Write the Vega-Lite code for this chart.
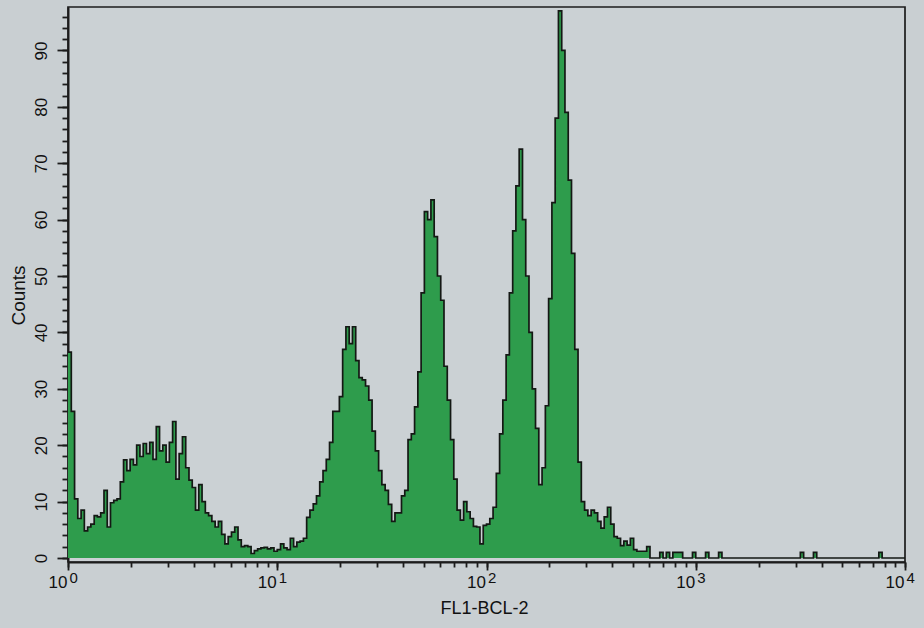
{
  "$schema": "https://vega.github.io/schema/vega-lite/v6.json",
  "width": 837,
  "height": 555,
  "autosize": {"type": "none"},
  "padding": {"left": 68, "top": 7, "right": 19, "bottom": 66},
  "background": "#c9cfd2",
  "config": {
    "view": {"stroke": "#1c1c1c", "strokeWidth": 1.7, "fill": "#cbd1d4"},
    "font": "Liberation Sans",
    "axis": {
      "domainColor": "#1c1c1c", "domainWidth": 2,
      "tickColor": "#1c1c1c", "tickWidth": 1.8,
      "labelColor": "#111111", "titleColor": "#111111",
      "grid": false, "labelFont": "Liberation Sans", "titleFont": "Liberation Sans",
      "titleFontWeight": "normal", "labelFlush": false, "labelOverlap": false
    }
  },
  "data": {"values": [
    {"fl":1,"n":36.5},{"fl":1.037,"n":26},{"fl":1.075,"n":10.5},{"fl":1.114,"n":7},{"fl":1.155,"n":8.5},{"fl":1.197,"n":4.8},{"fl":1.241,"n":5.5},{"fl":1.286,"n":6},
    {"fl":1.334,"n":7.5},{"fl":1.382,"n":7.3},{"fl":1.433,"n":8},{"fl":1.486,"n":12},{"fl":1.540,"n":5.5},{"fl":1.596,"n":9.8},{"fl":1.655,"n":10.2},{"fl":1.715,"n":10.5},
    {"fl":1.778,"n":13.5},{"fl":1.843,"n":17.4},{"fl":1.911,"n":15.5},{"fl":1.981,"n":17.5},{"fl":2.054,"n":16.5},{"fl":2.129,"n":20},{"fl":2.207,"n":18},{"fl":2.288,"n":20.3},
    {"fl":2.371,"n":18.5},{"fl":2.458,"n":20.5},{"fl":2.548,"n":17.5},{"fl":2.642,"n":23.3},{"fl":2.738,"n":19},{"fl":2.839,"n":20},{"fl":2.943,"n":17},{"fl":3.051,"n":20.5},
    {"fl":3.162,"n":24.2},{"fl":3.278,"n":14},{"fl":3.398,"n":18.5},{"fl":3.523,"n":21.5},{"fl":3.652,"n":16},{"fl":3.786,"n":13.8},{"fl":3.924,"n":12.5},{"fl":4.068,"n":8.5},
    {"fl":4.217,"n":13},{"fl":4.371,"n":10},{"fl":4.532,"n":8},{"fl":4.698,"n":7.5},{"fl":4.870,"n":6.5},{"fl":5.048,"n":5.5},{"fl":5.233,"n":6.5},{"fl":5.425,"n":4.2},
    {"fl":5.623,"n":2.5},{"fl":5.829,"n":3.8},{"fl":6.043,"n":4.6},{"fl":6.264,"n":5.5},{"fl":6.494,"n":3.2},{"fl":6.732,"n":2},{"fl":6.978,"n":2.2},{"fl":7.234,"n":2},
    {"fl":7.499,"n":0.8},{"fl":7.774,"n":1.3},{"fl":8.058,"n":1.6},{"fl":8.354,"n":1.8},{"fl":8.660,"n":1.9},{"fl":8.977,"n":1.6},{"fl":9.306,"n":1.8},{"fl":9.647,"n":1.2},
    {"fl":10,"n":1.5},{"fl":10.37,"n":2.5},{"fl":10.75,"n":1.8},{"fl":11.14,"n":1.5},{"fl":11.55,"n":3.5},{"fl":11.97,"n":2},{"fl":12.41,"n":2.8},{"fl":12.86,"n":3},
    {"fl":13.34,"n":3.5},{"fl":13.82,"n":7.2},{"fl":14.33,"n":8.5},{"fl":14.86,"n":9.6},{"fl":15.40,"n":11},{"fl":15.96,"n":13.5},{"fl":16.55,"n":15.5},{"fl":17.15,"n":17.5},
    {"fl":17.78,"n":20.5},{"fl":18.43,"n":26},{"fl":19.11,"n":26},{"fl":19.81,"n":28.6},{"fl":20.54,"n":37},{"fl":21.29,"n":41},{"fl":22.07,"n":38},{"fl":22.88,"n":41},
    {"fl":23.71,"n":35},{"fl":24.58,"n":32},{"fl":25.48,"n":31.6},{"fl":26.42,"n":30.5},{"fl":27.38,"n":28},{"fl":28.39,"n":22.5},{"fl":29.43,"n":19},{"fl":30.51,"n":15.5},
    {"fl":31.62,"n":13},{"fl":32.78,"n":12},{"fl":33.98,"n":9.5},{"fl":35.23,"n":6.5},{"fl":36.52,"n":8},{"fl":37.86,"n":8},{"fl":39.24,"n":11},{"fl":40.68,"n":12},
    {"fl":42.17,"n":21},{"fl":43.71,"n":22},{"fl":45.32,"n":26.8},{"fl":46.98,"n":33},{"fl":48.70,"n":47},{"fl":50.48,"n":61.4},{"fl":52.33,"n":60},{"fl":54.25,"n":63.5},
    {"fl":56.23,"n":57},{"fl":58.29,"n":50},{"fl":60.43,"n":45.7},{"fl":62.64,"n":34},{"fl":64.94,"n":28},{"fl":67.32,"n":21},{"fl":69.78,"n":14},{"fl":72.34,"n":8.5},
    {"fl":74.99,"n":6.7},{"fl":77.74,"n":10},{"fl":80.58,"n":8.2},{"fl":83.54,"n":7},{"fl":86.60,"n":5.6},{"fl":89.77,"n":5.5},{"fl":93.06,"n":2.5},{"fl":96.47,"n":5.8},
    {"fl":100,"n":6},{"fl":103.7,"n":7},{"fl":107.5,"n":9},{"fl":111.4,"n":15},{"fl":115.5,"n":22},{"fl":119.7,"n":28},{"fl":124.1,"n":36},{"fl":128.6,"n":47},
    {"fl":133.4,"n":58},{"fl":138.2,"n":66},{"fl":143.3,"n":72.5},{"fl":148.6,"n":60},{"fl":154.0,"n":50},{"fl":159.6,"n":40},{"fl":165.5,"n":30},{"fl":171.5,"n":23},
    {"fl":177.8,"n":13},{"fl":184.3,"n":16},{"fl":191.1,"n":27},{"fl":198.1,"n":46},{"fl":205.4,"n":63},{"fl":212.9,"n":78},{"fl":220.7,"n":97},{"fl":228.8,"n":90},
    {"fl":237.1,"n":79},{"fl":245.8,"n":67},{"fl":254.8,"n":54},{"fl":264.2,"n":37},{"fl":273.8,"n":17},{"fl":283.9,"n":10},{"fl":294.3,"n":8.5},{"fl":305.1,"n":7.5},
    {"fl":316.2,"n":8.5},{"fl":327.8,"n":8},{"fl":339.8,"n":6.5},{"fl":352.3,"n":5.3},{"fl":365.2,"n":7.3},{"fl":378.6,"n":9},{"fl":392.4,"n":6},{"fl":406.8,"n":3.8},
    {"fl":421.7,"n":3.5},{"fl":437.1,"n":2.2},{"fl":453.2,"n":3},{"fl":469.8,"n":2.3},{"fl":487.0,"n":3.5},{"fl":504.8,"n":1.5},{"fl":523.3,"n":1.2},{"fl":542.5,"n":1.2},
    {"fl":562.3,"n":1.2},{"fl":582.9,"n":2},{"fl":604.3,"n":0},{"fl":626.4,"n":0},{"fl":649.4,"n":0},{"fl":673.2,"n":1},{"fl":697.8,"n":0},{"fl":723.4,"n":1},
    {"fl":749.9,"n":0},{"fl":777.4,"n":1},{"fl":805.8,"n":1},{"fl":835.4,"n":1},{"fl":866.0,"n":0},{"fl":897.7,"n":0},{"fl":930.6,"n":0},{"fl":964.7,"n":1},
    {"fl":1000,"n":0},{"fl":1037,"n":0},{"fl":1075,"n":0},{"fl":1114,"n":1},{"fl":1155,"n":0},{"fl":1197,"n":0},{"fl":1241,"n":0},{"fl":1286,"n":1},
    {"fl":1334,"n":0},{"fl":1382,"n":0},{"fl":1433,"n":0},{"fl":1486,"n":0},{"fl":1540,"n":0},{"fl":1596,"n":0},{"fl":1655,"n":0},{"fl":1715,"n":0},
    {"fl":1778,"n":0},{"fl":1843,"n":0},{"fl":1911,"n":0},{"fl":1981,"n":0},{"fl":2054,"n":0},{"fl":2129,"n":0},{"fl":2207,"n":0},{"fl":2288,"n":0},
    {"fl":2371,"n":0},{"fl":2458,"n":0},{"fl":2548,"n":0},{"fl":2642,"n":0},{"fl":2738,"n":0},{"fl":2839,"n":0},{"fl":2943,"n":0},{"fl":3051,"n":0},
    {"fl":3162,"n":1},{"fl":3278,"n":0},{"fl":3398,"n":0},{"fl":3523,"n":0},{"fl":3652,"n":1},{"fl":3786,"n":0},{"fl":3924,"n":0},{"fl":4068,"n":0},
    {"fl":4217,"n":0},{"fl":4371,"n":0},{"fl":4532,"n":0},{"fl":4698,"n":0},{"fl":4870,"n":0},{"fl":5048,"n":0},{"fl":5233,"n":0},{"fl":5425,"n":0},
    {"fl":5623,"n":0},{"fl":5829,"n":0},{"fl":6043,"n":0},{"fl":6264,"n":0},{"fl":6494,"n":0},{"fl":6732,"n":0},{"fl":6978,"n":0},{"fl":7234,"n":0},
    {"fl":7499,"n":1},{"fl":7774,"n":0},{"fl":8058,"n":0},{"fl":8354,"n":0},{"fl":8660,"n":0},{"fl":8977,"n":0},{"fl":9306,"n":0},{"fl":9647,"n":0},
    {"fl":10000,"n":0}
  ]},
  "layer": [
    {
      "mark": {"type": "area", "interpolate": "step-after", "color": "#2e9c4c"},
      "encoding": {
        "x": {
          "field": "fl", "type": "quantitative",
          "scale": {"type": "log", "domain": [1, 10000]},
          "axis": {
            "orient": "bottom",
            "values": [1,2,3,4,5,6,7,8,9,10,20,30,40,50,60,70,80,90,100,200,300,400,500,600,700,800,900,1000,2000,3000,4000,5000,6000,7000,8000,9000,10000],
            "labelExpr": "indexof([1,10,100,1000,10000], datum.value) >= 0 ? '10' : ''",
            "tickSize": 5,
            "labelFontSize": 17, "labelAlign": "right", "labelOffset": -1,
            "labelPadding": 7, "labelBaseline": "top",
            "title": "FL1-BCL-2", "titleFontSize": 18,
            "titleX": 416, "titleY": 46, "titleAlign": "center", "titleBaseline": "middle"
          }
        },
        "y": {
          "field": "n", "type": "quantitative",
          "scale": {"domain": [-0.71, 97.7], "nice": false, "zero": false},
          "axis": {
            "orient": "left",
            "values": [0,2,4,6,8,10,12,14,16,18,20,22,24,26,28,30,32,34,36,38,40,42,44,46,48,50,52,54,56,58,60,62,64,66,68,70,72,74,76,78,80,82,84,86,88,90,92,94,96],
            "labelExpr": "datum.value % 10 === 0 ? datum.label : ''",
            "tickSize": 6,
            "labelAngle": 270, "labelAlign": "center", "labelBaseline": "bottom",
            "labelFontSize": 17, "labelPadding": 12,
            "title": "Counts", "titleFontSize": 19, "titleAngle": 270,
            "titleX": -50, "titleY": 288, "titleAlign": "center", "titleBaseline": "middle"
          }
        }
      }
    },
    {
      "mark": {"type": "line", "interpolate": "step-after", "color": "#141814", "strokeWidth": 1.7},
      "encoding": {
        "x": {
          "field": "fl", "type": "quantitative",
          "scale": {"type": "log", "domain": [1, 10000]},
          "axis": {
            "orient": "bottom",
            "values": [1, 10, 100, 1000, 10000],
            "labelExpr": "'' + round(log(datum.value) / LN10)",
            "tickSize": 8, "domain": false,
            "labelAlign": "left", "labelOffset": 1, "labelPadding": 0,
            "labelFontSize": 15, "labelBaseline": "top",
            "title": null
          }
        },
        "y": {
          "field": "n", "type": "quantitative",
          "axis": {
            "orient": "left",
            "values": [0,10,20,30,40,50,60,70,80,90],
            "tickSize": 11, "labels": false, "domain": false, "title": null
          }
        }
      }
    }
  ],
  "resolve": {"axis": {"x": "independent", "y": "independent"}}
}
